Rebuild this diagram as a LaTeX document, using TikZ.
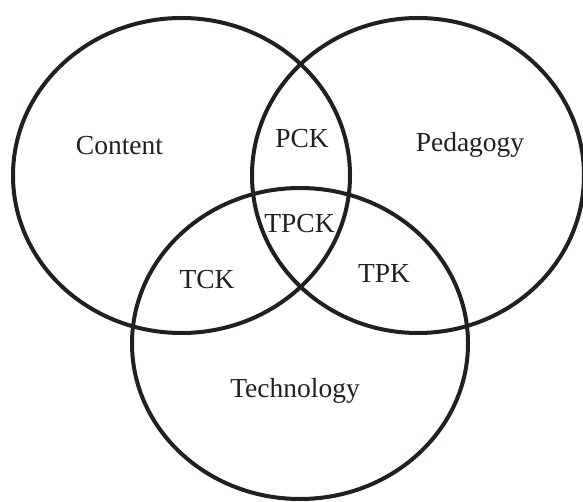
\documentclass[tikz,border=0pt]{standalone}
\usepackage{fontspec}
\setmainfont{Liberation Serif}
\begin{document}
\begin{tikzpicture}[x=1pt, y=-1pt,
  ring/.style={draw=ink, line width=4pt},
  lbl/.style={anchor=base, inner sep=0pt, text=ink, font=\fontsize{27.5}{30}\selectfont}]
\definecolor{ink}{HTML}{231F20}
\useasboundingbox (0,0) rectangle (583,502);
\begin{scope}
\clip (0,0) rectangle (583,502);
% the three knowledge domains
\draw[ring] (181.5,175.5) ellipse [x radius=168.5, y radius=157.5];
\draw[ring] (418,175.5) ellipse [x radius=166, y radius=157.5];
\draw[ring] (300,343.5) ellipse [x radius=168, y radius=155.5];
\end{scope}
% labels
\node[lbl] (content) at (119.5,155) {Content};
\node[lbl] (pedagogy) at (470,152) {Pedagogy};
\node[lbl] (technology) at (295,397) {Technology};
\node[lbl] (pck) at (302,148) {PCK};
\node[lbl] (tpck) at (299.5,233) {TPCK};
\node[lbl] (tck) at (207,289) {TCK};
\node[lbl] (tpk) at (384,283) {TPK};
\end{tikzpicture}
\end{document}
